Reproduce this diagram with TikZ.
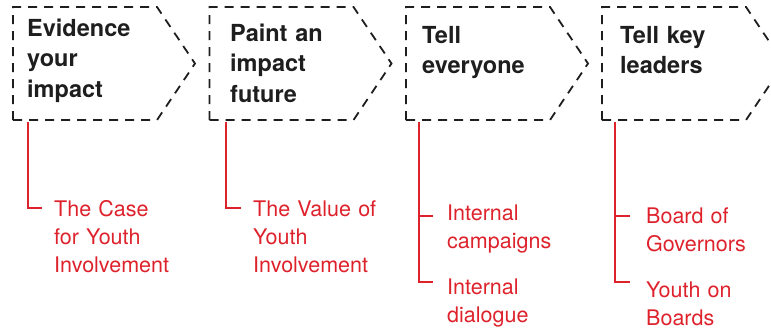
\documentclass[tikz,border=0pt]{standalone}
\usepackage{fontspec}
\setmainfont{TeX Gyre Heros}
\definecolor{accent}{RGB}{222,34,44}
\definecolor{ink}{RGB}{30,30,30}
\begin{document}
\begin{tikzpicture}[x=1pt,y=-1pt,
  box/.style={draw=ink, line width=1.8pt, dash pattern=on 9pt off 7pt, line join=miter},
  head/.style={anchor=base west, inner sep=0pt, text width=150pt, align=left,
    font=\fontsize{23.5}{30.5}\selectfont\bfseries, text=ink},
  item/.style={anchor=base west, inner sep=0pt, text width=140pt, align=left,
    font=\fontsize{21.5}{28}\selectfont, text=accent},
  link/.style={draw=accent, line width=1.8pt}]
\useasboundingbox (0,0) rectangle (771,330);
\clip (0,0) rectangle (771,330);

% boxes
\foreach \l [count=\i] in {13,209.5,406,602}{
  \draw[box] (\l,120) -- (\l,7) -- ++(144,0) -- ++(38,56.5) -- ++(-38,56.5) -- cycle;
}

% headings
\node[head] (h1) at (27,36) {Evidence\\your\\impact};
\node[head] (h2) at (230,41) {Paint an\\impact\\future};
\node[head] (h3) at (422,43) {Tell\\everyone};
\node[head] (h4) at (620,43) {Tell key\\leaders};

% items
\node[item] (i1) at (54,216) {The Case\\for Youth\\Involvement};
\node[item] (i2) at (253,216) {The Value of\\Youth\\Involvement};
\node[item] (i3a) at (447,220) {Internal\\campaigns};
\node[item] (i3b) at (447,294) {Internal\\dialogue};
\node[item] (i4a) at (646,223) {Board of\\Governors};
\node[item] (i4b) at (646,297) {Youth on\\Boards};

% connector anchors
\coordinate (s1) at (28,122);
\coordinate (e1) at (42,208);
\coordinate (s2) at (226,122);
\coordinate (e2) at (241,208);
\coordinate (s3) at (419,122);
\coordinate (e3a) at (433,216);
\coordinate (e3b) at (433,282);
\coordinate (s4) at (615,122);
\coordinate (e4a) at (630,216);
\coordinate (e4b) at (630,282);

\draw[link] (s1) |- (e1);
\draw[link] (s2) |- (e2);
\draw[link] (s3) |- (e3b);
\draw[link] (s3 |- e3a) -- (e3a);
\draw[link] (s4) |- (e4b);
\draw[link] (s4 |- e4a) -- (e4a);
\end{tikzpicture}
\end{document}
